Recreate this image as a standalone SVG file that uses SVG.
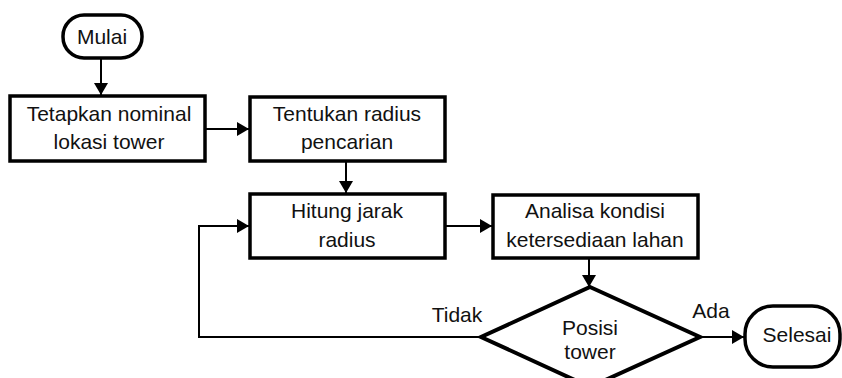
<svg xmlns="http://www.w3.org/2000/svg" width="842" height="378" viewBox="0 0 842 378">
<defs>
<marker id="ah" markerWidth="12" markerHeight="14" refX="12" refY="7" orient="auto" markerUnits="userSpaceOnUse">
<path d="M0,0 L12,7 L0,14 Z" fill="#000"/>
</marker>
<style>
.box{fill:#fff;stroke:#000;stroke-width:3.5}
.term{fill:#fff;stroke:#000;stroke-width:3.5}
.dec{fill:#fff;stroke:#000;stroke-width:4;stroke-linejoin:miter}
.con{fill:none;stroke:#000;stroke-width:2}
text{font-family:"Liberation Sans",Arial,sans-serif;font-size:21px;fill:#111;text-anchor:middle}
</style>
</defs>
<rect width="842" height="378" fill="#fff"/>
<g id="connectors">
<path class="con" d="M101,58 V95" marker-end="url(#ah)"/>
<path class="con" d="M205,129 H249" marker-end="url(#ah)"/>
<path class="con" d="M346,161 V193" marker-end="url(#ah)"/>
<path class="con" d="M445,226 H492" marker-end="url(#ah)"/>
<path class="con" d="M589,258 V287" marker-end="url(#ah)"/>
<path class="con" d="M700,337 H744" marker-end="url(#ah)"/>
<path class="con" d="M481,337 H199 V226 H249" marker-end="url(#ah)"/>
<text x="457" y="322">Tidak</text>
<text x="711" y="318">Ada</text>
</g>
<g id="mulai">
<rect class="term" x="63" y="15" width="79" height="43" rx="21" ry="21"/>
<text x="102" y="44">Mulai</text>
</g>
<g id="tetapkan">
<rect class="box" x="10" y="96" width="195" height="65"/>
<text x="109" y="121">Tetapkan nominal</text>
<text x="109" y="149">lokasi tower</text>
</g>
<g id="tentukan">
<rect class="box" x="250" y="97" width="195" height="64"/>
<text x="347" y="121">Tentukan radius</text>
<text x="347" y="149">pencarian</text>
</g>
<g id="hitung">
<rect class="box" x="250" y="194" width="195" height="64"/>
<text x="347" y="218">Hitung jarak</text>
<text x="347" y="247">radius</text>
</g>
<g id="analisa">
<rect class="box" x="493" y="195" width="205" height="63"/>
<text x="595" y="218">Analisa kondisi</text>
<text x="595" y="247">ketersediaan lahan</text>
</g>
<g id="posisi">
<polygon class="dec" points="590,287 700,337 590,387 481,337"/>
<text x="590" y="335">Posisi</text>
<text x="590" y="359">tower</text>
</g>
<g id="selesai">
<rect class="term" x="745" y="306" width="95" height="61" rx="28" ry="28"/>
<text x="797" y="342">Selesai</text>
</g>
</svg>
